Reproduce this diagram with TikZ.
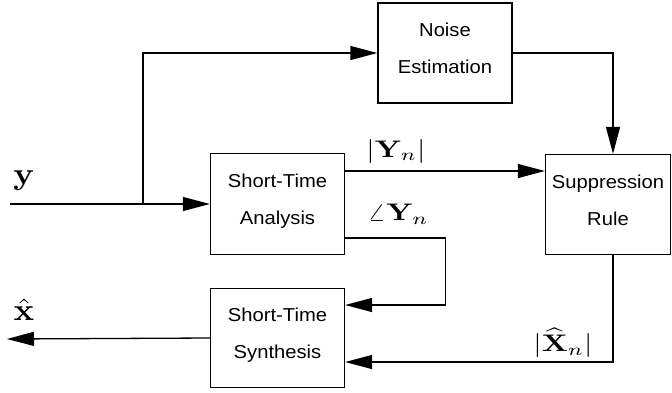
\documentclass[tikz,border=0pt]{standalone}
\usepackage{graphicx}
\usepackage[no-math]{fontspec}
\setmainfont{Liberation Sans}[FakeStretch=1.08]
\usetikzlibrary{arrows.meta}
\newcommand{\lblmath}[1]{\scalebox{3.0}[2.4]{$#1$}}
\newcommand{\sigmath}[1]{\scalebox{3.4}[3.1]{$#1$}}
\begin{document}
\begin{tikzpicture}[x=1pt,y=-1pt,line width=1.3pt,
  >={Triangle[length=27pt,width=14pt]},
  blk/.style={draw,line width=1.3pt,inner sep=0pt,align=center,text depth=9pt,
    font=\fontsize{18.7}{37}\selectfont},
  lbl/.style={inner sep=0pt,font=\normalsize}]
\useasboundingbox (0,0) rectangle (672,392);
\node[blk,minimum width=134pt,minimum height=100pt] (noise) at (445,53) {Noise\\Estimation};
\node[blk,minimum width=125pt,minimum height=100pt] (sup) at (608,204.5) {Suppression\\Rule};
\node[blk,minimum width=134pt,minimum height=101pt] (ana) at (277.5,204) {Short-Time\\Analysis};
\node[blk,minimum width=134pt,minimum height=99pt] (syn) at (277.5,338) {Short-Time\\Synthesis};
\coordinate (yin) at (10,204);
\coordinate (br) at (143,204);
\coordinate (xout) at (7,339);
\coordinate (a1) at ([yshift=33pt]ana.east);
\coordinate (a2) at ([yshift=-34pt]ana.east);
\coordinate (s1) at ([yshift=33pt]syn.east);
\coordinate (s2) at ([yshift=-24pt]syn.east);
\draw[->] (yin) -- (ana.west);
\draw[->] (br) |- (noise.west);
\draw[->] (noise.east) -| ([xshift=5pt]sup.north);
\draw[->] (a1) -- (a1 -| sup.west);
\draw[->] (a2) -- ++(100,0) |- (s1);
\draw[->] ([xshift=5pt]sup.south) |- (s2);
\draw[->] (syn.west) -- (xout);
\node[lbl] (ly) at (24,181) {\sigmath{\mathbf{y}}};
\node[lbl] (lx) at (24,310) {\sigmath{\hat{\mathbf{x}}}};
\node[lbl] (lY) at (396,151) {\lblmath{|\mathbf{Y}_n|}};
\node[lbl] (lA) at (398,214) {\lblmath{\angle\mathbf{Y}_n}};
\node[lbl] (lX) at (563,343) {\lblmath{|\widehat{\mathbf{X}}_n|}};
\end{tikzpicture}
\end{document}
